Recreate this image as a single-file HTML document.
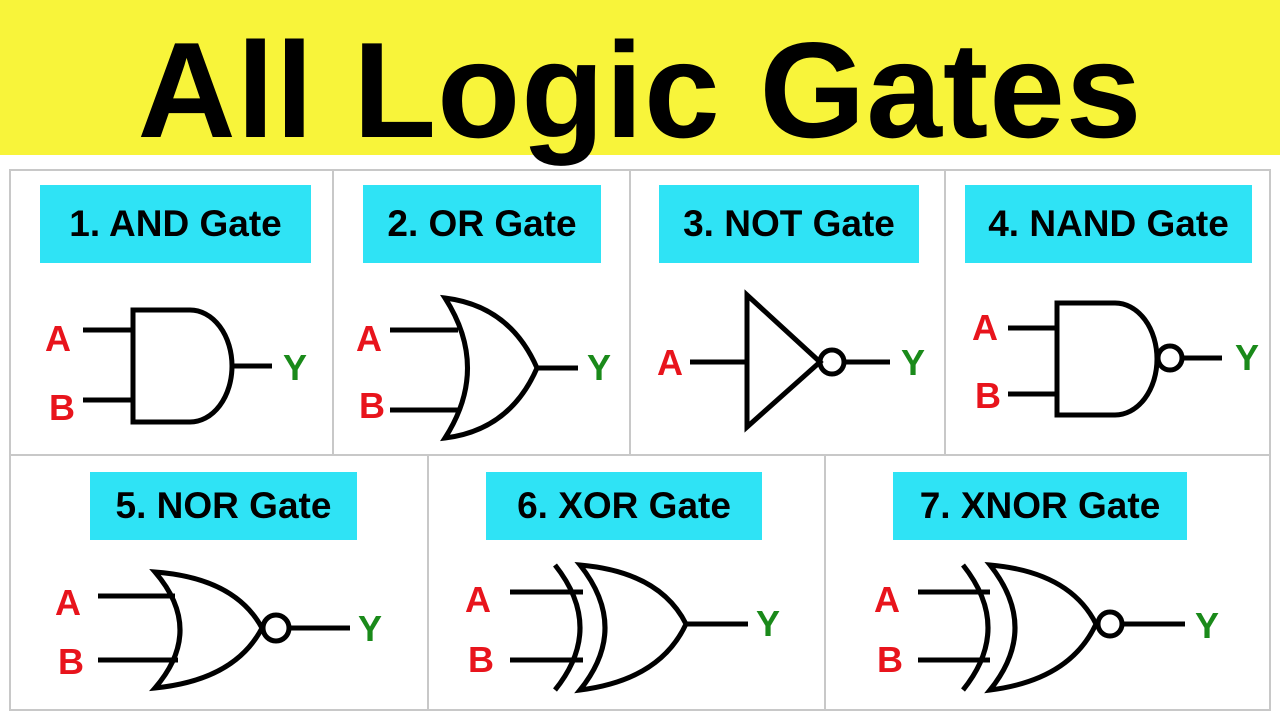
<!DOCTYPE html>
<html><head><meta charset="utf-8"><style>
body{margin:0;width:1280px;height:720px;background:#fff;overflow:hidden;font-family:"Liberation Sans",sans-serif}
.banner{position:absolute;left:0;top:0;width:1280px;height:155px;background:#f8f43a}
.title{position:absolute;left:0;width:1280px;top:20px;text-align:center;font-size:136px;font-weight:bold;color:#000;letter-spacing:1px;line-height:140px}
.lbl{position:absolute;background:#2fe3f5;font-weight:bold;font-size:37px;color:#000;display:flex;align-items:center;justify-content:center}
svg{position:absolute;left:0;top:0}
</style></head><body>
<div class="banner"></div>
<div class="title">All Logic Gates</div>
<svg width="1280" height="720">
<g stroke="#c8c8c8" stroke-width="2" fill="none">
<rect x="10" y="170" width="1260" height="540"/>
<line x1="10" y1="455" x2="1270" y2="455"/>
<line x1="333" y1="170" x2="333" y2="455"/>
<line x1="630" y1="170" x2="630" y2="455"/>
<line x1="945" y1="170" x2="945" y2="455"/>
<line x1="428" y1="455" x2="428" y2="710"/>
<line x1="825" y1="455" x2="825" y2="710"/>
</g>
<g stroke="#000" stroke-width="5" fill="none" stroke-linejoin="miter">
<line x1="83" y1="330" x2="133" y2="330"/><line x1="83" y1="400" x2="133" y2="400"/>
<path d="M133 310 L190 310 A42 56 0 0 1 190 422 L133 422 Z"/>
<line x1="232" y1="366" x2="272" y2="366"/>
<line x1="390" y1="330" x2="458" y2="330"/><line x1="390" y1="410" x2="458" y2="410"/>
<path d="M445 298 Q490 368 445 438 Q510 430 537 368 Q510 306 445 298 Z"/>
<line x1="537" y1="368" x2="578" y2="368"/>
<line x1="690" y1="362" x2="747" y2="362"/>
<path d="M747 295 L747 427 L820 362 Z"/>
<circle cx="832" cy="362" r="12"/>
<line x1="845" y1="362" x2="890" y2="362"/>
<line x1="1008" y1="328" x2="1057" y2="328"/><line x1="1008" y1="394" x2="1057" y2="394"/>
<path d="M1057 303 L1115 303 A42 56 0 0 1 1115 415 L1057 415 Z"/>
<circle cx="1170" cy="358" r="12"/>
<line x1="1182" y1="358" x2="1222" y2="358"/>
<line x1="98" y1="596" x2="175" y2="596"/><line x1="98" y1="660" x2="178" y2="660"/>
<path d="M155 572 Q205 630 155 688 Q235 680 262 628 Q235 578 155 572 Z"/>
<circle cx="276" cy="628" r="13"/>
<line x1="290" y1="628" x2="350" y2="628"/>
<line x1="510" y1="592" x2="583" y2="592"/><line x1="510" y1="660" x2="583" y2="660"/>
<path d="M555 565 Q605 628 555 690"/>
<path d="M580 565 Q630 628 580 690 Q660 680 686 624 Q660 572 580 565 Z"/>
<line x1="686" y1="624" x2="748" y2="624"/>
<line x1="918" y1="592" x2="990" y2="592"/><line x1="918" y1="660" x2="990" y2="660"/>
<path d="M963 565 Q1013 628 963 690"/>
<path d="M990 565 Q1040 628 990 690 Q1070 680 1096 624 Q1070 572 990 565 Z"/>
<circle cx="1110" cy="624" r="12"/>
<line x1="1123" y1="624" x2="1185" y2="624"/>
</g>
<g font-family="Liberation Sans, sans-serif" font-weight="bold" font-size="36">
<g fill="#e8141c">
<text x="45" y="351">A</text><text x="49" y="420">B</text>
<text x="356" y="351">A</text><text x="359" y="418">B</text>
<text x="657" y="375">A</text>
<text x="972" y="340">A</text><text x="975" y="408">B</text>
<text x="55" y="615">A</text><text x="58" y="674">B</text>
<text x="465" y="612">A</text><text x="468" y="672">B</text>
<text x="874" y="612">A</text><text x="877" y="672">B</text>
</g>
<g fill="#1a8a1a">
<text x="283" y="380">Y</text><text x="587" y="380">Y</text>
<text x="901" y="375">Y</text><text x="1235" y="370">Y</text>
<text x="358" y="641">Y</text><text x="756" y="636">Y</text>
<text x="1195" y="638">Y</text>
</g>
</g>
</svg>
<div class="lbl" style="left:40px;top:185px;width:271px;height:78px">1. AND Gate</div>
<div class="lbl" style="left:363px;top:185px;width:238px;height:78px">2. OR Gate</div>
<div class="lbl" style="left:659px;top:185px;width:260px;height:78px">3. NOT Gate</div>
<div class="lbl" style="left:965px;top:185px;width:287px;height:78px">4. NAND Gate</div>
<div class="lbl" style="left:90px;top:472px;width:267px;height:68px">5. NOR Gate</div>
<div class="lbl" style="left:486px;top:472px;width:276px;height:68px">6. XOR Gate</div>
<div class="lbl" style="left:893px;top:472px;width:294px;height:68px">7. XNOR Gate</div>
</body></html>
